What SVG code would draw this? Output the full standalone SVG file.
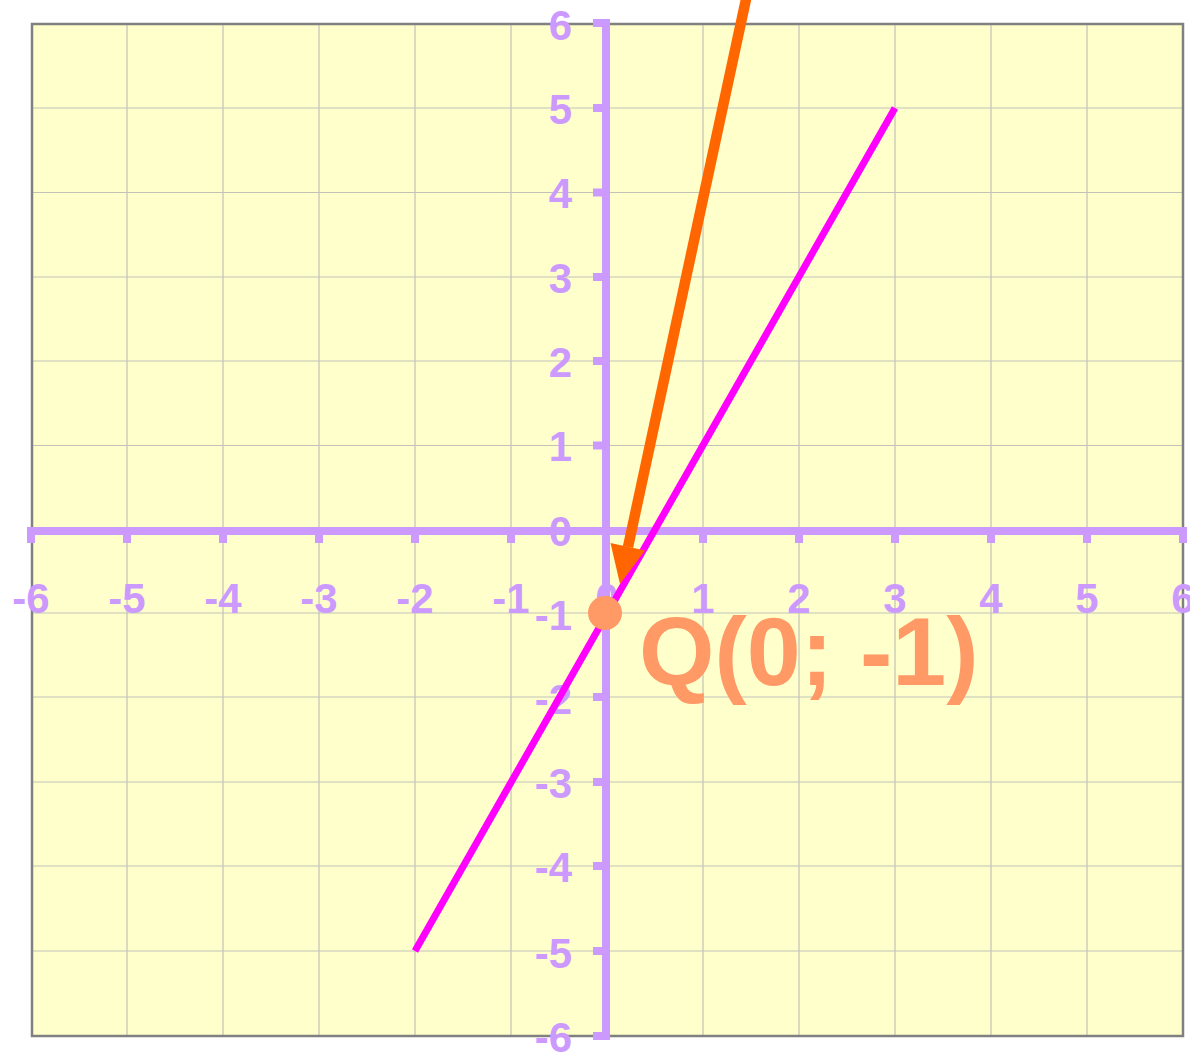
<svg xmlns="http://www.w3.org/2000/svg" width="1190" height="1060" viewBox="0 0 1190 1060">
<style>
.grid line{stroke:#c2c2b8;stroke-width:1.2}
.ax{fill:#cc99ff}
.lab{font-family:"Liberation Sans",Arial,sans-serif;font-weight:bold;font-size:42px;fill:#cc99ff}
.xl{text-anchor:middle}
.yl{text-anchor:end}
</style>
<rect x="0" y="0" width="1190" height="1060" fill="#ffffff"/>
<g id="plot">
<rect x="32" y="24" width="1151" height="1012" fill="#ffffcc"/>
</g>
<g id="grid" class="grid">
<line x1="127" y1="24" x2="127" y2="1036"/>
<line x1="223" y1="24" x2="223" y2="1036"/>
<line x1="319" y1="24" x2="319" y2="1036"/>
<line x1="415" y1="24" x2="415" y2="1036"/>
<line x1="511" y1="24" x2="511" y2="1036"/>
<line x1="607" y1="24" x2="607" y2="1036"/>
<line x1="703" y1="24" x2="703" y2="1036"/>
<line x1="799" y1="24" x2="799" y2="1036"/>
<line x1="895" y1="24" x2="895" y2="1036"/>
<line x1="991" y1="24" x2="991" y2="1036"/>
<line x1="1087" y1="24" x2="1087" y2="1036"/>
<line x1="32" y1="108" x2="1183" y2="108"/>
<line x1="32" y1="192.5" x2="1183" y2="192.5"/>
<line x1="32" y1="277" x2="1183" y2="277"/>
<line x1="32" y1="361" x2="1183" y2="361"/>
<line x1="32" y1="445.5" x2="1183" y2="445.5"/>
<line x1="32" y1="529" x2="1183" y2="529"/>
<line x1="32" y1="613" x2="1183" y2="613"/>
<line x1="32" y1="697" x2="1183" y2="697"/>
<line x1="32" y1="782" x2="1183" y2="782"/>
<line x1="32" y1="866" x2="1183" y2="866"/>
<line x1="32" y1="951" x2="1183" y2="951"/>
</g>
<g id="frame">
<rect x="32" y="24" width="1151" height="1012" fill="none" stroke="#808080" stroke-width="2.5"/>
</g>
<g id="axes">
<rect class="ax" x="27" y="527" width="1160" height="8"/>
<rect class="ax" x="602" y="19" width="8" height="1021"/>
<rect class="ax" x="27" y="531" width="8" height="12"/>
<rect class="ax" x="123" y="531" width="8" height="12"/>
<rect class="ax" x="219" y="531" width="8" height="12"/>
<rect class="ax" x="315" y="531" width="8" height="12"/>
<rect class="ax" x="411" y="531" width="8" height="12"/>
<rect class="ax" x="507" y="531" width="8" height="12"/>
<rect class="ax" x="699" y="531" width="8" height="12"/>
<rect class="ax" x="795" y="531" width="8" height="12"/>
<rect class="ax" x="891" y="531" width="8" height="12"/>
<rect class="ax" x="987" y="531" width="8" height="12"/>
<rect class="ax" x="1083" y="531" width="8" height="12"/>
<rect class="ax" x="1179" y="531" width="8" height="12"/>
<rect class="ax" x="593" y="19" width="13" height="8"/>
<rect class="ax" x="593" y="104" width="13" height="8"/>
<rect class="ax" x="593" y="188.5" width="13" height="8"/>
<rect class="ax" x="593" y="273" width="13" height="8"/>
<rect class="ax" x="593" y="357" width="13" height="8"/>
<rect class="ax" x="593" y="441.5" width="13" height="8"/>
<rect class="ax" x="593" y="609" width="13" height="8"/>
<rect class="ax" x="593" y="693" width="13" height="8"/>
<rect class="ax" x="593" y="778" width="13" height="8"/>
<rect class="ax" x="593" y="862" width="13" height="8"/>
<rect class="ax" x="593" y="947" width="13" height="8"/>
<rect class="ax" x="593" y="1032" width="13" height="8"/>
</g>
<g id="x-labels" class="lab xl">
<text x="31" y="612.5">-6</text>
<text x="127" y="612.5">-5</text>
<text x="223" y="612.5">-4</text>
<text x="319" y="612.5">-3</text>
<text x="415" y="612.5">-2</text>
<text x="511" y="612.5">-1</text>
<text x="607" y="612.5">0</text>
<text x="703" y="612.5">1</text>
<text x="799" y="612.5">2</text>
<text x="895" y="612.5">3</text>
<text x="991" y="612.5">4</text>
<text x="1087" y="612.5">5</text>
<text x="1183" y="612.5">6</text>
</g>
<g id="y-labels" class="lab yl">
<text x="572" y="40">6</text>
<text x="572" y="123.5">5</text>
<text x="572" y="208">4</text>
<text x="572" y="292.5">3</text>
<text x="572" y="376.5">2</text>
<text x="572" y="461">1</text>
<text x="572" y="546">0</text>
<text x="572" y="629.5">-1</text>
<text x="572" y="713.5">-2</text>
<text x="572" y="798">-3</text>
<text x="572" y="882">-4</text>
<text x="572" y="967.5">-5</text>
<text x="572" y="1052">-6</text>
</g>
<g id="line-magenta">
<line x1="415" y1="951" x2="895" y2="108" stroke="#ff00ff" stroke-width="7"/>
</g>
<g id="arrow-orange">
<line x1="748" y1="-10" x2="628" y2="547" stroke="#ff6600" stroke-width="10.5"/>
<polygon points="620,584 610.5,543 645,550.5" fill="#ff6600"/>
</g>
<g id="point-Q">
<circle cx="605" cy="613" r="17" fill="#ff9966"/>
<text x="639" y="685" font-family="'Liberation Sans',Arial,sans-serif" font-weight="bold" font-size="97" fill="#ff9966">Q(0; -1)</text>
</g>
</svg>
